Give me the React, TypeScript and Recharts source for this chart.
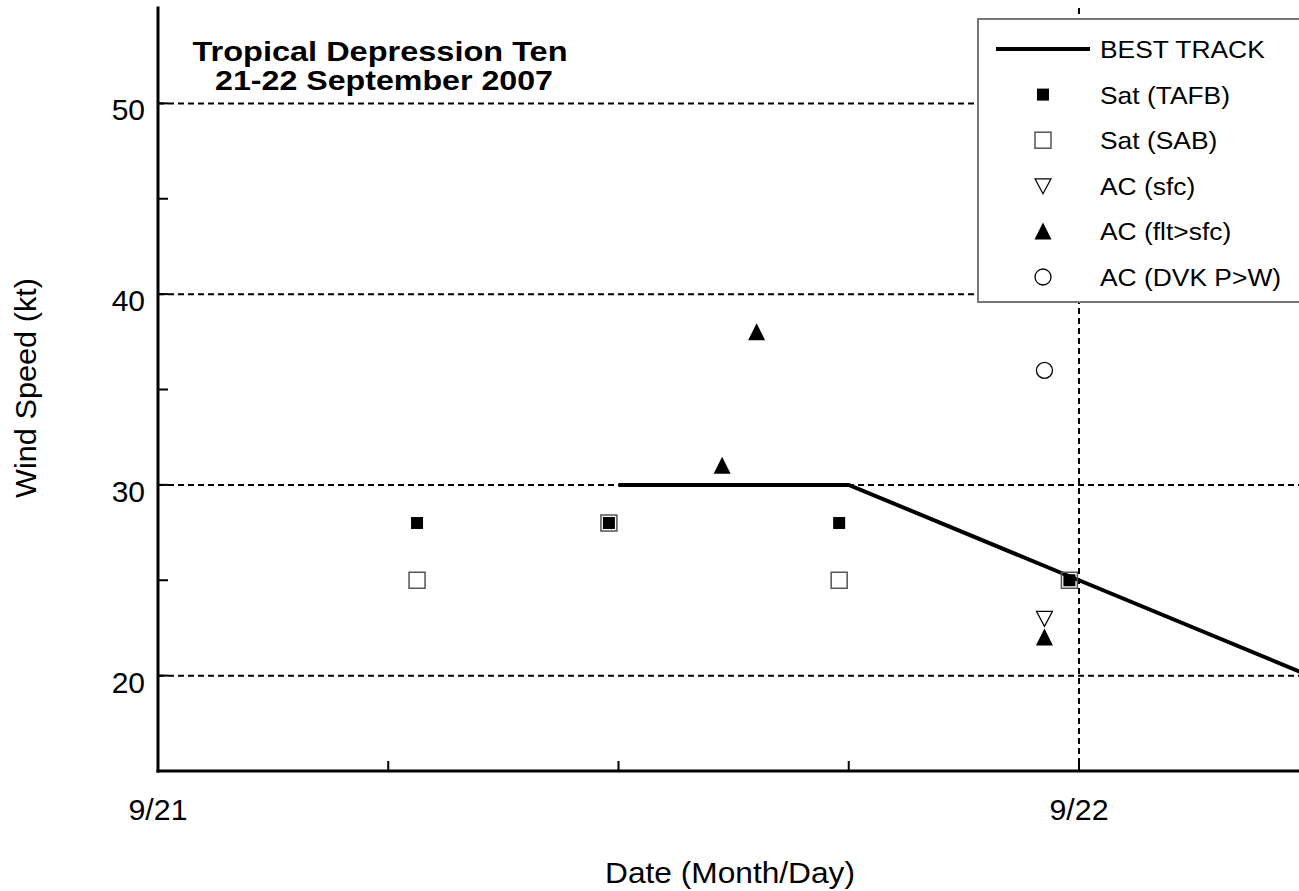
import { ComposedChart, Line, Scatter, XAxis, YAxis, CartesianGrid, Legend } from "recharts";

// hours after 21 Sep 00 UTC, wind in kt
const BEST_TRACK = [
  { hour: 12, wind: 30 },
  { hour: 18, wind: 30 },
  { hour: 24, wind: 25 },
  { hour: 30, wind: 20 },
];
const SAT_TAFB = [
  { hour: 6.75, wind: 28 },
  { hour: 11.75, wind: 28 },
  { hour: 17.75, wind: 28 },
  { hour: 23.75, wind: 25 },
];
const SAT_SAB = [
  { hour: 6.75, wind: 25 },
  { hour: 11.75, wind: 28 },
  { hour: 17.75, wind: 25 },
  { hour: 23.75, wind: 25 },
];
const AC_SFC = [{ hour: 23.1, wind: 23 }];
const AC_FLT = [
  { hour: 14.7, wind: 31 },
  { hour: 15.6, wind: 38 },
  { hour: 23.1, wind: 22 },
];
const AC_DVK = [{ hour: 23.1, wind: 36 }];

const X_TICKS = [0, 6, 12, 18, 24, 30];
const X_LABELS: Record<number, string> = { 0: "9/21", 24: "9/22" };
const Y_TICKS = [15, 20, 25, 30, 35, 40, 45, 50, 55];
const Y_LABELS = [20, 30, 40, 50];
const TITLE = ["Tropical Depression Ten", "21-22 September 2007"];
const LEGEND_NAMES = ["BEST TRACK", "Sat (TAFB)", "Sat (SAB)", "AC (sfc)", "AC (flt>sfc)", "AC (DVK P>W)"];

const FONT = "'Liberation Sans', Arial, sans-serif";

const filledSquare = (cx: number, cy: number) => (
  <rect x={cx - 6} y={cy - 6} width={12} height={12} fill="#000" />
);
const openSquare = (cx: number, cy: number) => (
  <rect x={cx - 8} y={cy - 8} width={16} height={16} fill="none" stroke="#555" strokeWidth={1.5} />
);
const downTriangle = (cx: number, cy: number) => (
  <polygon points={`${cx - 8},${cy - 7} ${cx + 8},${cy - 7} ${cx},${cy + 8}`} fill="#fff" stroke="#000" strokeWidth={1.2} />
);
const upTriangle = (cx: number, cy: number) => (
  <polygon points={`${cx},${cy - 9} ${cx + 8.5},${cy + 8} ${cx - 8.5},${cy + 8}`} fill="#000" />
);
const openCircle = (cx: number, cy: number) => (
  <circle cx={cx} cy={cy} r={8} fill="#fff" stroke="#000" strokeWidth={1.3} />
);

const ICONS = [
  (cx: number, cy: number) => <line x1={cx - 47} y1={cy} x2={cx + 47} y2={cy} stroke="#000" strokeWidth={4} />,
  filledSquare,
  openSquare,
  downTriangle,
  upTriangle,
  openCircle,
];

const shapeOf = (fn: (cx: number, cy: number) => any) => (p: any) => fn(p.cx, p.cy);

const BottomTick = (props: any) => {
  const { x, y, payload } = props;
  const label = X_LABELS[payload.value];
  return (
    <g>
      <line x1={x} y1={y} x2={x} y2={y - 10} stroke="#000" strokeWidth={2} />
      {label && (
        <text x={x} y={y + 49} textAnchor="middle" fontSize={30} fontFamily={FONT} fill="#000" textLength={59} lengthAdjust="spacingAndGlyphs">
          {label}
        </text>
      )}
    </g>
  );
};

const TopTick = (props: any) => {
  const { x, y } = props;
  return <line x1={x} y1={y} x2={x} y2={y + 10} stroke="#000" strokeWidth={2} />;
};

const LeftTick = (props: any) => {
  const { x, y, payload } = props;
  const v = payload.value;
  const edge = v === Y_TICKS[0] || v === Y_TICKS[Y_TICKS.length - 1];
  return (
    <g>
      {!edge && <line x1={x} y1={y} x2={x + 10} y2={y} stroke="#000" strokeWidth={2} />}
      {Y_LABELS.includes(v) && (
        <text x={x - 13} y={y + 17} textAnchor="end" fontSize={30} fontFamily={FONT} fill="#000">
          {v}
        </text>
      )}
    </g>
  );
};

const LegendBox = () => (
  <div style={{ width: 340, height: 285, background: "#fff", border: "2px solid #777", boxSizing: "border-box" }}>
    <svg width={340} height={285} style={{ display: "block", marginTop: -2, marginLeft: -2 }}>
      {LEGEND_NAMES.map((name, i) => {
        const cy = 31 + i * 45.6;
        return (
          <g key={name}>
            {ICONS[i](66, cy)}
            <text transform={`translate(123 ${cy + 9}) scale(1.1 1)`} fontSize={24} fontFamily={FONT} fill="#000">
              {name}
            </text>
          </g>
        );
      })}
    </svg>
  </div>
);

export default function App() {
  const axisLine = { stroke: "#000", strokeWidth: 3, strokeLinecap: "square" as const };
  return (
    <div style={{ position: "absolute", left: 0, top: 0, width: 1299, height: 891, overflow: "hidden", background: "#fff" }}>
      <ComposedChart width={1320} height={891} margin={{ top: 8, right: 10.75, bottom: 0, left: 0 }}>
        <CartesianGrid
          horizontalValues={Y_LABELS}
          verticalValues={[24]}
          stroke="#000"
          strokeWidth={2}
          strokeDasharray="6 4"
        />
        <XAxis
          dataKey="hour"
          type="number"
          domain={[0, 30]}
          ticks={X_TICKS}
          interval={0}
          height={120}
          tickSize={0}
          tickMargin={0}
          axisLine={axisLine}
          tick={<BottomTick />}
        />
        <XAxis
          xAxisId="top"
          orientation="top"
          type="number"
          domain={[0, 30]}
          ticks={X_TICKS}
          interval={0}
          height={0}
          tickSize={0}
          tickMargin={0}
          axisLine={axisLine}
          tick={<TopTick />}
        />
        <YAxis
          dataKey="wind"
          type="number"
          domain={[15, 55]}
          ticks={Y_TICKS}
          interval={0}
          width={158}
          tickSize={0}
          tickMargin={0}
          axisLine={axisLine}
          tick={<LeftTick />}
        />
        <Line data={BEST_TRACK} dataKey="wind" stroke="#000" strokeWidth={4} dot={false} isAnimationActive={false} />
        <Scatter data={SAT_SAB} dataKey="wind" shape={shapeOf(openSquare)} isAnimationActive={false} />
        <Scatter data={SAT_TAFB} dataKey="wind" shape={shapeOf(filledSquare)} isAnimationActive={false} />
        <Scatter data={AC_SFC} dataKey="wind" shape={shapeOf(downTriangle)} isAnimationActive={false} />
        <Scatter data={AC_FLT} dataKey="wind" shape={shapeOf(upTriangle)} isAnimationActive={false} />
        <Scatter data={AC_DVK} dataKey="wind" shape={shapeOf(openCircle)} isAnimationActive={false} />
        <Legend
          layout="vertical"
          align="center"
          verticalAlign="middle"
          wrapperStyle={{ left: 977, top: 18, width: 340, height: 285 }}
          content={() => <LegendBox />}
        />
        <text x={380} y={61} textAnchor="middle" fontSize={28} fontWeight="bold" fontFamily={FONT} textLength={375} lengthAdjust="spacingAndGlyphs">
          {TITLE[0]}
        </text>
        <text x={384} y={90} textAnchor="middle" fontSize={28} fontWeight="bold" fontFamily={FONT} textLength={338} lengthAdjust="spacingAndGlyphs">
          {TITLE[1]}
        </text>
        <text x={36} y={388} transform="rotate(-90 36 388)" textAnchor="middle" fontSize={30} fontFamily={FONT} textLength={220} lengthAdjust="spacingAndGlyphs">
          Wind Speed (kt)
        </text>
        <text x={730} y={883} textAnchor="middle" fontSize={30} fontFamily={FONT} textLength={250} lengthAdjust="spacingAndGlyphs">
          Date (Month/Day)
        </text>
      </ComposedChart>
    </div>
  );
}
